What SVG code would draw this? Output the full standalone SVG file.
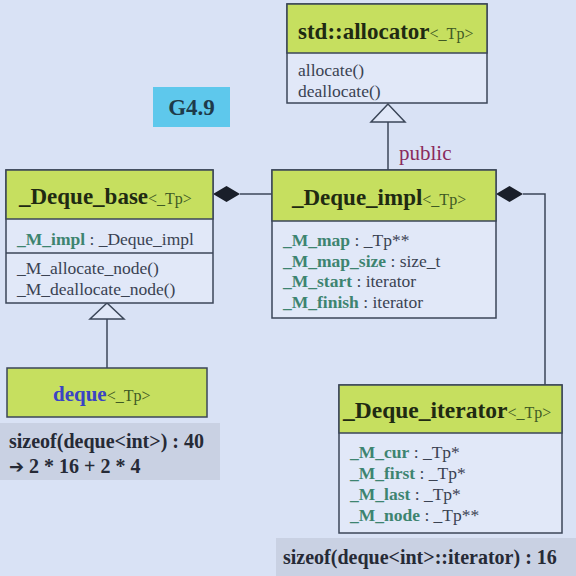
<svg xmlns="http://www.w3.org/2000/svg" width="576" height="576" viewBox="0 0 576 576">
<style>
.bg{fill:#d9e2f5}
.body{fill:#e1e8f8;stroke:#3b4658;stroke-width:1.5}
.head{fill:#c6df5f;stroke:#3b4658;stroke-width:1.5}
.sep{stroke:#3b4658;stroke-width:1.5}
text{font-family:"Liberation Serif","Times New Roman","DejaVu Serif",serif}
.title{font-weight:bold;fill:#1f2a12}
.tp{font-weight:normal;fill:#3f5a24;font-size:16px}
.attr{font-size:17.5px;fill:#3a4252}
.nm{font-weight:bold;fill:#3d8470}
.line{stroke:#3b4658;stroke-width:1.5;fill:none}
.note{font-weight:bold;font-size:20px;fill:#262a36}
.band{fill:#c9d1e3}
</style>
<rect class="bg" x="0" y="0" width="576" height="576"/>

<g id="connectors">
  <path class="line" d="M388,122 V170"/>
  <polygon points="388,104 371,122 405,122" fill="#e1e8f8" stroke="#3b4658" stroke-width="1.5"/>
  <text x="399" y="160" font-size="21" fill="#8a2a5c">public</text>
  <path class="line" d="M240,194 H272"/>
  <polygon points="213,194 226.5,186 240,194 226.5,202" fill="#1a1f2a"/>
  <path class="line" d="M523,194 H545 V385"/>
  <polygon points="496,194 509.5,186 523,194 509.5,202" fill="#1a1f2a"/>
  <path class="line" d="M107,319 V368"/>
  <polygon points="107,303 90,319 124,319" fill="#e1e8f8" stroke="#3b4658" stroke-width="1.5"/>
</g>

<g id="g49">
  <rect x="153" y="87" width="77" height="40" fill="#5ec8ec"/>
  <text x="191.5" y="115" text-anchor="middle" font-size="23" font-weight="bold" fill="#1e3a4a">G4.9</text>
</g>

<g id="allocator">
  <rect class="body" x="287" y="4" width="200" height="99"/>
  <rect class="head" x="287" y="4" width="200" height="49"/>
  <text class="title" x="298" y="39" font-size="23">std::allocator<tspan class="tp">&lt;_Tp&gt;</tspan></text>
  <text class="attr" x="298" y="76">allocate()</text>
  <text class="attr" x="298" y="97">deallocate()</text>
</g>

<g id="deque_base">
  <rect class="body" x="6" y="170" width="207" height="133"/>
  <rect class="head" x="6" y="170" width="207" height="49"/>
  <line class="sep" x1="6" y1="253" x2="213" y2="253"/>
  <text class="title" x="19" y="204" font-size="23">_Deque_base<tspan class="tp">&lt;_Tp&gt;</tspan></text>
  <text class="attr" x="17" y="245"><tspan class="nm">_M_impl</tspan> : _Deque_impl</text>
  <text class="attr" x="17" y="274">_M_allocate_node()</text>
  <text class="attr" x="17" y="295">_M_deallocate_node()</text>
</g>

<g id="deque_impl">
  <rect class="body" x="272" y="170" width="224" height="148"/>
  <rect class="head" x="272" y="170" width="224" height="51"/>
  <text class="title" x="292" y="205" font-size="23">_Deque_impl<tspan class="tp">&lt;_Tp&gt;</tspan></text>
  <text class="attr" x="283" y="246"><tspan class="nm">_M_map</tspan> : _Tp**</text>
  <text class="attr" x="283" y="267"><tspan class="nm">_M_map_size</tspan> : size_t</text>
  <text class="attr" x="283" y="287"><tspan class="nm">_M_start</tspan> : iterator</text>
  <text class="attr" x="283" y="308"><tspan class="nm">_M_finish</tspan> : iterator</text>
</g>

<g id="deque">
  <rect class="head" x="7" y="368" width="200" height="49"/>
  <text class="title" x="53" y="401" font-size="21" style="fill:#3a44c4">deque<tspan class="tp">&lt;_Tp&gt;</tspan></text>
</g>

<g id="deque_iterator">
  <rect class="body" x="339" y="385" width="223" height="148"/>
  <rect class="head" x="339" y="385" width="223" height="48"/>
  <text class="title" x="343" y="418" font-size="23.5">_Deque_iterator<tspan class="tp">&lt;_Tp&gt;</tspan></text>
  <text class="attr" x="350" y="458"><tspan class="nm">_M_cur</tspan> : _Tp*</text>
  <text class="attr" x="350" y="479"><tspan class="nm">_M_first</tspan> : _Tp*</text>
  <text class="attr" x="350" y="500"><tspan class="nm">_M_last</tspan> : _Tp*</text>
  <text class="attr" x="350" y="521"><tspan class="nm">_M_node</tspan> : _Tp**</text>
</g>

<g id="sizeof_deque">
  <rect class="band" x="0" y="423" width="220" height="57"/>
  <text class="note" x="9" y="448">sizeof(deque&lt;int&gt;) : 40</text>
  <text class="note" x="9" y="473"><tspan style="font-family:'DejaVu Sans',sans-serif" font-size="18">➔</tspan> 2 * 16 + 2 * 4</text>
</g>

<g id="sizeof_iter">
  <rect class="band" x="276" y="538" width="300" height="38"/>
  <text class="note" x="283" y="564">sizeof(deque&lt;int&gt;::iterator) : 16</text>
</g>
</svg>
